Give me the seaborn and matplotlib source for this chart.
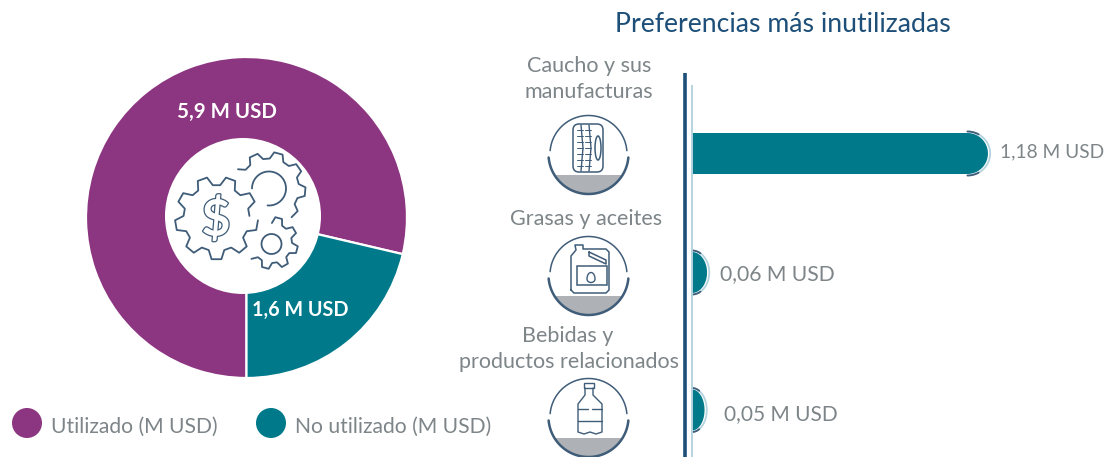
import numpy as np
import matplotlib
matplotlib.use("Agg")
import matplotlib.pyplot as plt
import matplotlib.patheffects as pe
from matplotlib.patches import Circle, Ellipse, FancyBboxPatch, Polygon, Rectangle
import seaborn as sns

# datos del grafico
donut_labels = ['Utilizado (M USD)', 'No utilizado (M USD)']
donut_values = [5.9, 1.6]
pref_values = [1.18, 0.06, 0.05]
pref_rows = [153.5, 272.5, 410]  # filas en pixeles, no estan a igual distancia

PURPLE = '#8c3580'
TEAL = '#007a8a'
GREY = '#7d8589'
NAVY = '#1d4f78'
ICON = '#3f5c78'
PALE = '#b4d3de'
SHADE = '#aeb2b6'
PX_PER_UNIT = 250.8

sns.set_theme(style='white')
plt.rcParams['font.family'] = ['Lato', 'DejaVu Sans']

fig = plt.figure(figsize=(11.05, 4.57), dpi=100, facecolor='white')


def money(v, dec):
    return f'{v:.{dec}f}'.replace('.', ',') + ' M USD'


# dona, el hueco va aparte porque no esta centrado del todo
ax_pie = fig.add_axes([86 / 1105, (457 - 378) / 457, 321 / 1105, 321 / 457])
ax_pie.pie(donut_values, colors=[PURPLE, TEAL], startangle=270, counterclock=False,
           radius=1, wedgeprops={'width': 1 - 70 / 160.5, 'edgecolor': 'white', 'linewidth': 1.6})
ax_pie.set_xlim(-1, 1)
ax_pie.set_ylim(-1, 1)
ax_pie.axis('off')

# barras, eje en pixeles para y
ax_bar = fig.add_axes([0, 0, 1, 1], facecolor='none')
sns.barplot(x=pref_values, y=pref_rows, orient='h', native_scale=True, color=TEAL,
            saturation=1, ax=ax_bar)
ax_bar.set_xlim(-692 / PX_PER_UNIT, (1105 - 692) / PX_PER_UNIT)
ax_bar.set_ylim(457, 0)
ax_bar.axis('off')

# cambia cada rectangulo por una barra con punta redonda
for bar, row in zip(list(ax_bar.patches), pref_rows):
    end = bar.get_width()
    bar.remove()
    half = 20.5
    rx = min(end * PX_PER_UNIT, half) / PX_PER_UNIT
    t = np.linspace(-np.pi / 2, np.pi / 2, 50)
    xs = end - rx + rx * np.cos(t)
    ys = row + half * np.sin(t)
    ax_bar.add_patch(Polygon(np.r_[[[0, row - half]], np.c_[xs, ys], [[0, row + half]]],
                             closed=True, fc=TEAL, ec='none', zorder=3))
    off = 2.2 / PX_PER_UNIT
    ax_bar.plot(xs + off * np.cos(t), row + (half + 1.5) * np.sin(t), color=PALE, lw=1.3, zorder=3)
    n = 9
    ax_bar.plot((xs + off * np.cos(t))[:n], (row + (half + 1.5) * np.sin(t))[:n], color=ICON, lw=1.3, zorder=4)
    ax_bar.plot((xs + off * np.cos(t))[-n:], (row + (half + 1.5) * np.sin(t))[-n:], color=ICON, lw=1.3, zorder=4)

# capa en pixeles para textos e iconos
ov = fig.add_axes([0, 0, 1, 1], facecolor='none')
ov.set_xlim(0, 1105)
ov.set_ylim(457, 0)
ov.axis('off')

ov.add_patch(Circle((243, 216), 78, fc='white', ec='none'))

ov.plot([685, 685], [73, 457], color=NAVY, lw=2.6, solid_capstyle='butt')
ov.plot([692, 692], [85, 457], color=PALE, lw=1.4, solid_capstyle='butt')

ov.text(783, 24, 'Preferencias más inutilizadas', color=NAVY, fontsize=19.2, ha='center', va='center')
ov.text(227, 112, money(donut_values[0], 1), color='white', fontsize=14.8, fontweight='bold', ha='center', va='center')
ov.text(300.5, 310, money(donut_values[1], 1), color='white', fontsize=14.2, fontweight='bold', ha='center', va='center')

for x, y, txt in [(589, 66, 'Caucho y sus'), (589, 92, 'manufacturas'),
                  (586, 219, 'Grasas y aceites'),
                  (568, 336, 'Bebidas y'), (569, 362, 'productos relacionados')]:
    ov.text(x, y, txt, color=GREY, fontsize=15.5, ha='center', va='center')

for x, y, v, fs in zip([1000, 720, 724], [152, 274, 414], pref_values, [13.8, 15.2, 15.0]):
    ov.text(x, y, money(v, 2), color=GREY, fontsize=fs, ha='left', va='center')

# leyenda
for cx, tx, c, lab in zip([27, 271], [51, 295], [PURPLE, TEAL], donut_labels):
    ov.add_patch(Circle((cx, 423), 15, fc=c, ec='none'))
    ov.text(tx, 427, lab, color=GREY, fontsize=15.2, ha='left', va='center')


# engranes del centro
def gear(cx, cy, r_out, r_in, teeth, a0=0.0, a1=360.0, phase=0.0):
    a = []
    r = []
    step = 360 / teeth
    k0 = int(np.floor((a0 - phase) / step))
    k1 = int(np.ceil((a1 - phase) / step))
    for k in range(k0, k1 + 1):
        base = phase + k * step
        a += [base - 0.34 * step, base - 0.17 * step, base + 0.17 * step, base + 0.34 * step]
        r += [r_in, r_out, r_out, r_in]
    a = np.array(a)
    r = np.array(r)
    keep = (a >= a0) & (a <= a1)
    rad = np.deg2rad(a[keep])
    ov.plot(cx + r[keep] * np.cos(rad), cy + r[keep] * np.sin(rad), color=ICON, lw=1.3,
            solid_joinstyle='round', solid_capstyle='round')


def arc(cx, cy, r, a0, a1, lw=1.3, color=ICON):
    t = np.deg2rad(np.linspace(a0, a1, 80))
    ov.plot(cx + r * np.cos(t), cy + r * np.sin(t), color=color, lw=lw, solid_capstyle='round')


gear(216.5, 218, 41.5, 33, 9, phase=10)
ov.text(216, 220, '$', color='white', fontsize=36, fontweight='bold', ha='center', va='center',
        path_effects=[pe.Stroke(linewidth=1.8, foreground=ICON), pe.Normal()])
gear(269, 188.5, 36.5, 30, 9, a0=-150, a1=55, phase=5)
arc(269, 188.5, 17, -180, 95)
gear(272, 243, 26, 20, 8, a0=-103, a1=152, phase=15)
ov.add_patch(Circle((271.5, 244), 10, fc='none', ec=ICON, lw=1.3))


# marco redondo de los iconos
def badge(cy, cx=588.5, r=40):
    lim = np.arcsin(21 / r)
    t = np.linspace(lim, np.pi - lim, 50)
    ov.add_patch(Polygon(np.c_[cx + r * np.cos(t), cy + r * np.sin(t)], closed=True,
                         fc=SHADE, ec='none'))
    arc(cx, cy, r - 1.5, -175, -5, lw=1.1)
    arc(cx, cy, r, 5, 175, lw=1.8)


badge(154)
badge(275)
badge(417)

# llanta
ov.add_patch(FancyBboxPatch((574, 125), 28, 46, boxstyle='round,pad=1,rounding_size=6',
                            fc='none', ec=ICON, lw=1.1))
ov.add_patch(Ellipse((598, 148), 6, 24, fc='none', ec=ICON, lw=1.1))
for x in [581, 589]:
    ov.plot([x, x + 2, x], [125, 148, 171], color=ICON, lw=1)
    for y in range(130, 170, 6):
        ov.plot([x - 4, x + 2], [y, y], color=ICON, lw=0.7)

# bidon
ov.plot([571, 571, 576, 575, 583, 583, 606, 609, 609, 606, 574, 571],
        [290, 256, 250, 245, 245, 249, 249, 252, 290, 293, 293, 290], color=ICON, lw=1.1)
ov.add_patch(Rectangle((577, 266), 30, 19, fc='none', ec=ICON, lw=1.1))
ov.plot([589, 606, 606, 589, 589], [252, 260, 264, 256, 252], color=ICON, lw=1.1)
t = np.linspace(0, 2 * np.pi, 40)
ov.plot(591 + 4 * np.sin(t), 279 + 3.5 * np.cos(t) - 3 * (np.cos(t) < 0) * np.abs(np.cos(t)),
        color=ICON, lw=1)

# botella
ov.add_patch(Rectangle((584, 383), 10, 5, fc='none', ec=ICON, lw=1))
ov.plot([585, 585, 578, 578, 584, 590, 596, 602, 602, 593, 593],
        [388, 395, 404, 432, 434, 432, 434, 432, 404, 395, 388], color=ICON, lw=1)
ov.plot([578, 588], [409, 409], color=ICON, lw=1)
ov.plot([592, 602], [409, 409], color=ICON, lw=1)
ov.plot([578, 602], [421, 421], color=ICON, lw=1)

fig.savefig('out.png', dpi=100)
